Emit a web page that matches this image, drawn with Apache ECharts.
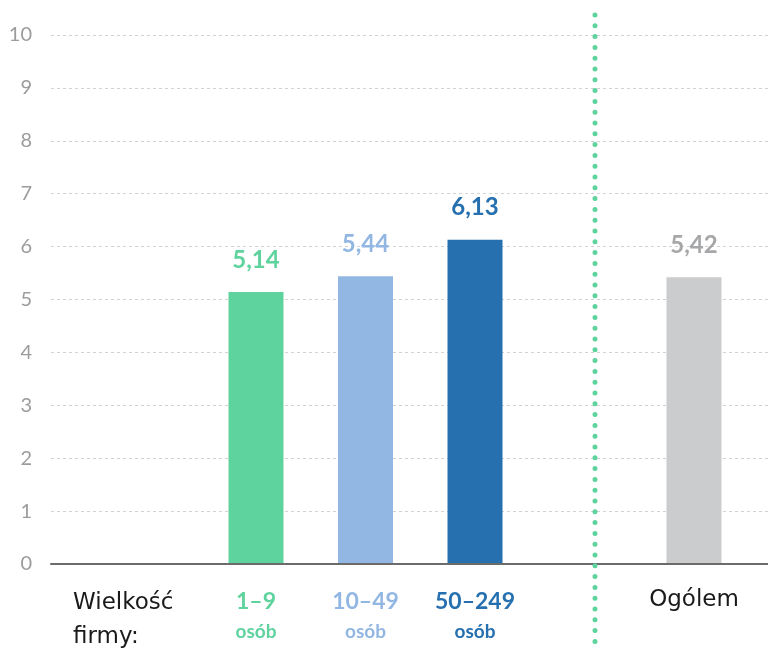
<!DOCTYPE html>
<html>
<head>
<meta charset="utf-8">
<script src="https://cdn.jsdelivr.net/npm/echarts@6/dist/echarts.min.js"></script>
<style>
  html, body { margin: 0; padding: 0; background: #fff; }
  #chart { width: 768px; height: 649px; }
</style>
</head>
<body>
<div id="chart"></div>
<script>
const categories = ['Wielkość firmy:', '1–9', '10–49', '50–249', '', 'Ogólem']
const subLabels = ['', 'osób', 'osób', 'osób', '', '']
const values = [null, 5.14, 5.44, 6.13, null, 5.42]
const barColors = ['#5fd39e', '#5fd39e', '#93b7e3', '#2670b0', '#cbccce', '#cbccce']
const valueColors = ['#5fd39e', '#5fd39e', '#93b7e3', '#2670b0', '#a6a7a9', '#a6a7a9']
const labelColors = ['#222', '#5fd39e', '#93b7e3', '#2670b0', '#222', '#222']
const yTicks = [0, 10, 1]

const chart = echarts.init(document.getElementById('chart'), null, { renderer: 'canvas' })

const numFont = 'Lato, "Noto Sans", sans-serif'
const rich = {
  w: { fontFamily: 'DejaVu Sans', fontSize: 23, color: '#1a1a1a', lineHeight: 34, width: 147, align: 'left', padding: [4, 0, 0, 0] },
  g: { fontFamily: 'DejaVu Sans', fontSize: 23, color: '#1a1a1a', lineHeight: 33 },
}
labelColors.forEach((c, i) => {
  rich['n' + i] = { fontFamily: numFont, fontWeight: 'bold', fontSize: 23, color: c, lineHeight: 36 }
  rich['o' + i] = { fontFamily: numFont, fontWeight: 'bold', fontSize: 19, color: c, lineHeight: 24 }
})

const option = {
  animation: false,
  grid: [
    { left: 51, right: 0, top: 35, bottom: 85 },
    { left: 91.75, right: 19.25, top: 35, bottom: 85 },
  ],
  xAxis: [
    {
      gridIndex: 0, type: 'category', data: ['a'], z: 5,
      axisLine: { lineStyle: { color: '#6b6b6b', width: 2 } },
      axisTick: { show: false }, axisLabel: { show: false },
    },
    {
      gridIndex: 1, type: 'category', data: categories,
      axisLine: { show: false }, axisTick: { show: false },
      axisLabel: {
        margin: 20,
        interval: 0,
        formatter: (v, i) => {
          if (i === 0) return '{w|Wielkość}\n{w|firmy:}'
          if (subLabels[i]) return `{n${i}|${v}}\n{o${i}|${subLabels[i]}}`
          return v ? `{g|${v}}` : ''
        },
        rich,
      },
    },
  ],
  yAxis: [
    {
      gridIndex: 0, type: 'value', min: yTicks[0], max: yTicks[1], interval: yTicks[2],
      axisLine: { show: false }, axisTick: { show: false },
      axisLabel: { color: '#9c9c9c', fontSize: 20, fontFamily: 'Lato', margin: 19 },
      splitLine: { lineStyle: { color: '#d2d2d2', type: [3, 3], width: 1 } },
    },
    {
      gridIndex: 1, type: 'value', min: yTicks[0], max: yTicks[1], show: false,
      splitLine: { show: false },
    },
  ],
  series: [
    {
      type: 'bar',
      xAxisIndex: 1, yAxisIndex: 1,
      barWidth: 55,
      data: values.map((v, i) => ({
        value: v,
        itemStyle: { color: barColors[i] },
        label: { color: valueColors[i] },
      })),
      label: {
        show: true,
        position: 'top',
        distance: 20,
        fontFamily: numFont,
        fontWeight: 'bold',
        fontSize: 24,
        formatter: p => p.value == null ? '' : p.value.toFixed(2).replace('.', ','),
      },
    },
  ],
  graphic: [
    {
      type: 'line',
      z: 10,
      shape: { x1: 595, y1: 15, x2: 595, y2: 645 },
      style: { stroke: '#5fd39e', lineWidth: 5, lineDash: [0, 10.8], lineCap: 'round' },
    },
  ],
}

chart.setOption(option)
</script>
</body>
</html>
